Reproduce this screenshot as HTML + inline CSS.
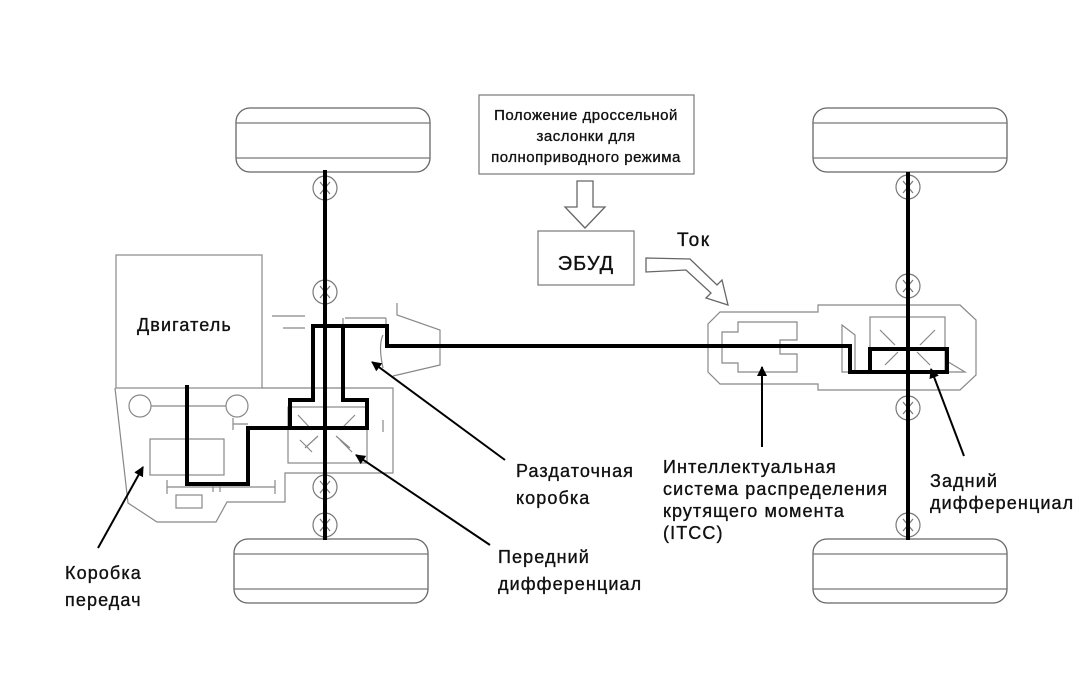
<!DOCTYPE html>
<html><head><meta charset="utf-8"><style>
html,body{margin:0;padding:0;background:#fff;}
svg{display:block;}
text{font-family:"Liberation Sans","DejaVu Sans",sans-serif;fill:#111;stroke:#111;stroke-width:0.35;}
</style></head><body>
<svg width="1080" height="695" viewBox="0 0 1080 695" xmlns="http://www.w3.org/2000/svg">
<defs>
<marker id="ah" markerWidth="10" markerHeight="10" refX="9" refY="5" orient="auto" markerUnits="userSpaceOnUse">
<path d="M0,0 L10,5 L0,10 Z" fill="#000"/></marker>
<g id="wheel"><rect x="0" y="0" width="194" height="64" rx="14" fill="#fff" stroke="#666" stroke-width="1.3"/>
<line x1="0" y1="15" x2="194" y2="15" stroke="#777" stroke-width="1.3"/><line x1="0" y1="50" x2="194" y2="50" stroke="#777" stroke-width="1.3"/></g>
<g id="joint"><circle r="12" fill="#fff" stroke="#777" stroke-width="1.2"/><path d="M-5,-6 L5,6 M5,-6 L-5,6" stroke="#777" stroke-width="1.2"/></g>
</defs>
<g fill="none" stroke="#888" stroke-width="1.2">
<rect x="116" y="255" width="146" height="133"/>
<path d="M262,388 H393 V473 H285 V502 H227 L216,522 H157 L128,503 Q122,450 115,388"/>
<circle cx="140" cy="406" r="11"/><circle cx="237" cy="406" r="11"/>
<line x1="151" y1="406" x2="226" y2="406"/>
<rect x="150" y="439" width="74" height="36"/>
<path d="M167,480 V494 M167,487 H275 M275,480 V494 M213,482 V492 M220,482 V492"/>
<rect x="176" y="495" width="26" height="13"/>
<path d="M233,418 V430 M233,424 H248"/>
<path d="M272,316 H305 M283,328 H305"/>
<path d="M345,318 H386 M343,318 V330 M386,318 V330"/>
<path d="M397,303 V315 L440,330 V365 L393,376"/>
<path d="M383,335 Q378,345 383,368"/>
<rect x="288" y="407" width="79" height="56"/>
<path d="M298,415 L312,430 M355,415 L340,430 M305,448 L318,436 M350,448 L336,436 M300,440 L312,452 M352,452 L340,440"/>
<line x1="383" y1="420" x2="383" y2="432"/>
<path d="M818,305 H960 L976,320 V375 L960,390 H818 V384 H720 L708,372 V324 L720,312 H818 Z"/>
<path d="M738,322 H797 V340 H780 V354 H797 V372 H738 V363 H722 V332 H738 Z"/>
<rect x="870" y="317" width="75" height="56"/>
<path d="M880,330 L895,345 M935,330 L920,345 M885,365 L898,352 M930,365 L917,352"/>
<path d="M842,325 L855,335 V372 H842 Z M945,360 L965,372 H945"/>
</g>
<use href="#wheel" x="236" y="108"/><use href="#wheel" x="234" y="539"/>
<use href="#wheel" x="813" y="108"/><use href="#wheel" x="813" y="539"/>
<use href="#joint" x="325" y="188"/><use href="#joint" x="325" y="292"/><use href="#joint" x="325" y="487"/><use href="#joint" x="325" y="525"/>
<use href="#joint" x="908" y="187"/><use href="#joint" x="908" y="286"/><use href="#joint" x="908" y="408"/><use href="#joint" x="908" y="525"/>
<line x1="325" y1="170" x2="325" y2="540" stroke="#000" stroke-width="4"/>
<line x1="908" y1="172" x2="908" y2="540" stroke="#000" stroke-width="4"/>
<g fill="none" stroke="#000" stroke-width="4" stroke-linejoin="miter">
<path d="M187,385 V484 H248 V428 H367 V400 H343 V326 H387 V346 H850 V372 H870"/>
<path d="M290,428 V400 H313 V326 H343"/>
<rect x="870" y="349" width="77" height="23"/>
</g>
<rect x="479" y="95" width="215" height="79" fill="#fff" stroke="#777" stroke-width="1.2"/>
<text font-size="15" letter-spacing="0.5" text-anchor="middle"><tspan x="586" y="120">Положение дроссельной</tspan><tspan x="586" y="141">заслонки для</tspan><tspan x="586" y="162">полноприводного режима</tspan></text>
<path d="M577,181 H593 V207 H605 L585,228 L565,207 H577 Z" fill="#fff" stroke="#666" stroke-width="1.3"/>
<rect x="538" y="231" width="96" height="54" fill="#fff" stroke="#777" stroke-width="1.2"/>
<text x="586" y="270" font-size="20" letter-spacing="1" text-anchor="middle">ЭБУД</text>
<text x="677" y="246" font-size="19" letter-spacing="1.5">Ток</text>
<path d="M646,258 L690,259 L717,285 L722,280 L728,305 L706,298 L711,293 L686,270 L646,272 Z" fill="#fff" stroke="#666" stroke-width="1.3"/>
<g font-size="18" letter-spacing="1.1">
<text x="137" y="331">Двигатель</text>
<text><tspan x="516" y="477">Раздаточная</tspan><tspan x="516" y="504">коробка</tspan></text>
<text><tspan x="498" y="563">Передний</tspan><tspan x="498" y="590">дифференциал</tspan></text>
<text><tspan x="65" y="579">Коробка</tspan><tspan x="65" y="606">передач</tspan></text>
<text><tspan x="663" y="473">Интеллектуальная</tspan><tspan x="663" y="495">система распределения</tspan><tspan x="663" y="517">крутящего момента</tspan><tspan x="663" y="539">(ITCC)</tspan></text>
<text><tspan x="930" y="487">Задний</tspan><tspan x="930" y="509">дифференциал</tspan></text>
</g>
<g stroke="#000" stroke-width="2" marker-end="url(#ah)">
<line x1="98" y1="548" x2="143" y2="467"/>
<line x1="505" y1="460" x2="372" y2="362"/>
<line x1="490" y1="545" x2="356" y2="455"/>
<line x1="762" y1="447" x2="762" y2="367"/>
<line x1="964" y1="456" x2="931" y2="369"/>
</g>
</svg>
</body></html>
